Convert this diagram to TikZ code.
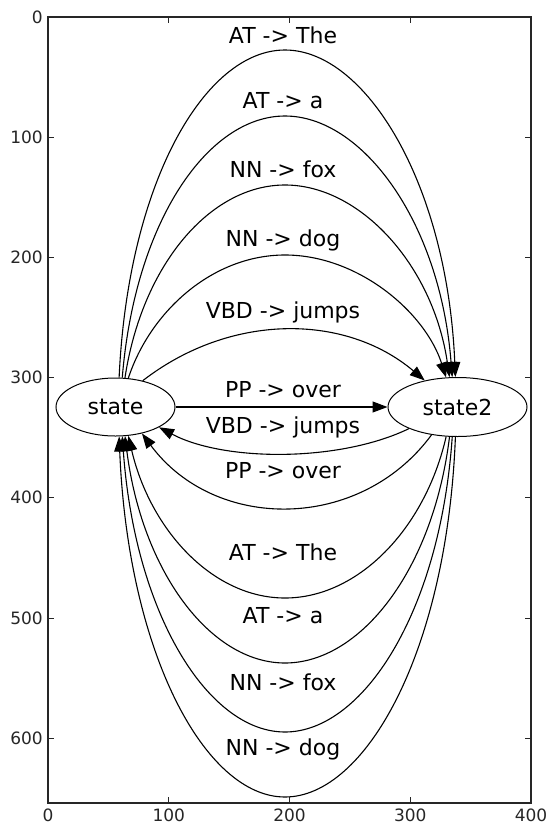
\documentclass[tikz,border=0pt]{standalone}
\usepackage{fontspec}
\setmainfont{DejaVu Sans}
\usetikzlibrary{arrows.meta,shapes.geometric}
\begin{document}
\begin{tikzpicture}[x=1pt,y=-1pt,
  st/.style={ellipse,draw,line width=1pt,inner sep=0pt,font=\fontsize{22}{26}\selectfont},
  lab/.style={font=\fontsize{22}{26}\selectfont,inner sep=0pt},
  ticklab/.style={font=\fontsize{17}{20}\selectfont,text=black!85,inner sep=0pt},
  edgeline/.style={line width=1.1pt,-{Triangle[length=15pt,width=11pt]}},
  axisline/.style={line width=1.4pt,black!85},
]
\fill[white] (0,0) rectangle (547,825);
\useasboundingbox (0,0) rectangle (547,825);

% axes
\draw[axisline] (48,17) rectangle (531,803);
\foreach \px/\lab in {48/0,168.75/100,289.5/200,410.25/300,531/400}{
  \draw[line width=0.8pt,black!85] (\px,803) -- (\px,797);
  \draw[line width=0.8pt,black!85] (\px,17) -- (\px,23);
  \node[ticklab] (xt\lab) at (\px,815) {\lab};
}
\foreach \py/\lab in {17/0,137.2/100,257.3/200,377.5/300,497.7/400,617.9/500,738/600}{
  \draw[line width=0.8pt,black!85] (48,\py) -- (54,\py);
  \draw[line width=0.8pt,black!85] (531,\py) -- (525,\py);
  \node[ticklab,anchor=east] (yt\lab) at (43,\py) {\lab};
}

% nodes
\node[st,minimum width=119pt,minimum height=58pt] (state) at (115.5,407) {state};
\node[st,minimum width=139pt,minimum height=59pt] (state2) at (457.5,407) {state2};

% top arcs state -> state2
\draw[edgeline] (state.83) .. controls (128,182) and (205,50) .. (285,50)
   .. controls (365,50) and (447,182) .. (state2.94);
\draw[edgeline] (state.77) .. controls (135,221) and (208,116) .. (285,116)
   .. controls (362,116) and (440,221) .. (state2.100);
\draw[edgeline] (state.72) .. controls (142,265) and (210,185) .. (285,185)
   .. controls (360,185) and (433,265) .. (state2.105);
\draw[edgeline] (state.66) .. controls (150,312) and (212,255) .. (285,255)
   .. controls (358,255) and (425,312) .. (state2.111);
\draw[edgeline] (state.44) .. controls (230,313) and (345,313) .. (state2.141);

% middle
\draw[edgeline] (state.east) -- (state2.west);
\draw[edgeline] (state2.-156) .. controls (340,462) and (225,462) .. (state.-25);
\draw[edgeline] (state2.-133) .. controls (360,532) and (215,532) .. (state.-45);

% bottom arcs state2 -> state
\draw[edgeline] (state2.-111) .. controls (425,529) and (358,598) .. (285,598)
   .. controls (212,598) and (150,529) .. (state.-66);
\draw[edgeline] (state2.-105) .. controls (433,571) and (360,663) .. (285,663)
   .. controls (210,663) and (142,571) .. (state.-72);
\draw[edgeline] (state2.-100) .. controls (440,614) and (362,732) .. (285,732)
   .. controls (208,732) and (135,614) .. (state.-77);
\draw[edgeline] (state2.-94) .. controls (447,653) and (365,797) .. (285,797)
   .. controls (205,797) and (128,653) .. (state.-83);

% labels
\node[lab] (l1) at (283,35) {AT -> The};
\node[lab] (l2) at (283,101) {AT -> a};
\node[lab] (l3) at (283,169) {NN -> fox};
\node[lab] (l4) at (283,240) {NN -> dog};
\node[lab] (l5) at (283,312) {VBD -> jumps};
\node[lab] (l6) at (283,390) {PP -> over};
\node[lab] (l7) at (283,427) {VBD -> jumps};
\node[lab] (l8) at (283,471) {PP -> over};
\node[lab] (l9) at (283,552) {AT -> The};
\node[lab] (l10) at (283,616) {AT -> a};
\node[lab] (l11) at (283,682) {NN -> fox};
\node[lab] (l12) at (283,749) {NN -> dog};
\end{tikzpicture}
\end{document}
